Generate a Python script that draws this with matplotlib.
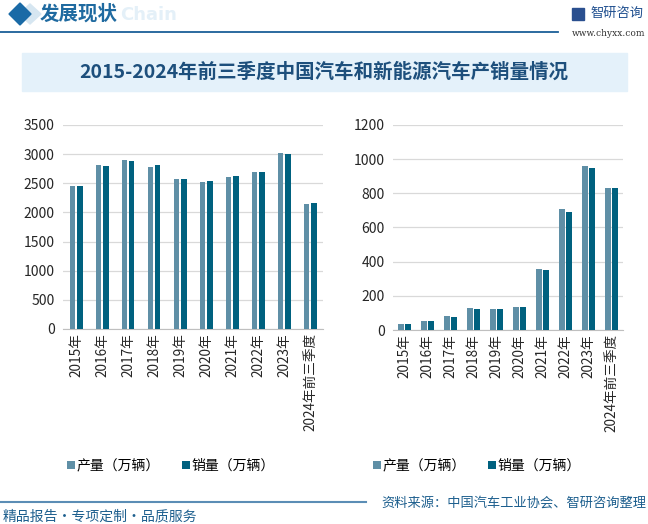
import numpy as np
import matplotlib
matplotlib.use("Agg")
import matplotlib.pyplot as plt
from matplotlib.patches import Rectangle, Polygon

plt.rcParams['font.family'] = ['Noto Sans CJK SC', 'DejaVu Sans']

# data
years = ['2015年', '2016年', '2017年', '2018年', '2019年', '2020年',
         '2021年', '2022年', '2023年', '2024年前三季度']
car_prod = [2450.3, 2811.9, 2901.5, 2780.9, 2572.1, 2522.5, 2608.2, 2702.1, 3016.1, 2147.0]
car_sales = [2459.8, 2802.8, 2887.9, 2808.1, 2576.9, 2531.1, 2627.5, 2686.4, 3009.4, 2157.1]
nev_prod = [34.1, 51.7, 79.4, 127.0, 124.2, 136.6, 354.5, 705.8, 958.7, 831.6]
nev_sales = [33.1, 50.7, 77.7, 125.6, 120.6, 136.7, 352.1, 688.7, 949.5, 832.0]
series_names = ['产量（万辆）', '销量（万辆）']

c_prod = '#5f8fa6'
c_sales = '#00617f'
dark_blue = '#1d5f8e'

W, H = 648, 524
fig = plt.figure(figsize=(W / 100, H / 100), dpi=100)


def fx(x):
    return x / W


def fy(y):
    return 1 - y / H


# header
fig.patches.append(Polygon([[fx(30), fy(4)], [fx(41), fy(14)], [fx(30), fy(24)], [fx(19), fy(14)]],
                           closed=True, transform=fig.transFigure, color='#d6e6f1', zorder=1))
fig.patches.append(Polygon([[fx(20), fy(3)], [fx(31), fy(14)], [fx(20), fy(25)], [fx(9), fy(14)]],
                           closed=True, transform=fig.transFigure, color='#1a6aa6', zorder=2))
fig.text(fx(120), fy(15), 'Chain', fontsize=13, fontweight='bold', color='#e4f0f8',
         ha='left', va='center', family='DejaVu Sans')
fig.text(fx(40), fy(14), '发展现状', fontsize=14, fontweight='bold', color='#1f6aa0',
         ha='left', va='center')
fig.add_artist(plt.Line2D([0, fx(558)], [fy(32), fy(32)], color='#1a5f97', lw=1.3,
                          transform=fig.transFigure))
fig.patches.append(Rectangle((fx(572), fy(20)), 12 / W, 12 / H, transform=fig.transFigure,
                             color='#2a4f8f', zorder=2))
fig.text(fx(590), fy(13), '智研咨询', fontsize=9.5, color='#1f4f8f', ha='left', va='center')
fig.text(fx(645), fy(33), 'www.chyxx.com', fontsize=6.5, color='#333333', ha='right',
         va='center', family='DejaVu Serif')

# title box
fig.patches.append(Rectangle((fx(22), fy(91)), 605 / W, 38 / H, transform=fig.transFigure,
                             color='#e4f1fa', zorder=0))
fig.text(fx(324), fy(72), '2015-2024年前三季度中国汽车和新能源汽车产销量情况', fontsize=14,
         fontweight='bold', color='#1d4f7c', ha='center', va='center')


def draw(ax, prod, sales, width, off, ymax, step, legend_x):
    x = np.arange(len(years))
    b1 = ax.bar(x - off, prod, width, color=c_prod, zorder=3)
    b2 = ax.bar(x + off, sales, width, color=c_sales, zorder=3)
    ax.set_xlim(-0.5, len(years) - 0.5)
    ax.set_ylim(0, ymax)
    ax.set_yticks(np.arange(0, ymax + 1, step))
    ax.set_xticks(x)
    ax.set_xticklabels(years, rotation=90, fontsize=9.8)
    ax.tick_params(axis='y', labelsize=10, length=0, pad=6, labelcolor='#262626')
    ax.tick_params(axis='x', length=0, pad=3, labelcolor='#262626')
    ax.yaxis.grid(True, color='#d9d9d9', lw=0.9, zorder=0)
    for s in ['top', 'right', 'left']:
        ax.spines[s].set_visible(False)
    ax.spines['bottom'].set_color('#bfbfbf')
    ax.set_facecolor('none')
    fig.legend([b1, b2], series_names, loc='center', ncol=2, frameon=False,
               bbox_to_anchor=(fx(legend_x), fy(466)), fontsize=10, handlelength=0.55,
               handleheight=0.55, handletextpad=0.15, columnspacing=1.6)


ax1 = fig.add_axes([fx(63), fy(329), 260 / W, 204 / H])
draw(ax1, car_prod, car_sales, 0.23, 0.135, 3500, 500, 171)
ax2 = fig.add_axes([fx(393), fy(330), 230 / W, 205 / H])
draw(ax2, nev_prod, nev_sales, 0.26, 0.15, 1200, 200, 477)

# footer
fig.add_artist(plt.Line2D([0, fx(366)], [fy(502), fy(502)], color='#5b8db5', lw=1.5,
                          transform=fig.transFigure))
fig.text(fx(3), fy(517), '精品报告·专项定制·品质服务', fontsize=10, color=dark_blue,
         ha='left', va='center')
fig.text(fx(646), fy(503), '资料来源：中国汽车工业协会、智研咨询整理', fontsize=9.5,
         color=dark_blue, ha='right', va='center')

fig.savefig('out.png', dpi=100)
